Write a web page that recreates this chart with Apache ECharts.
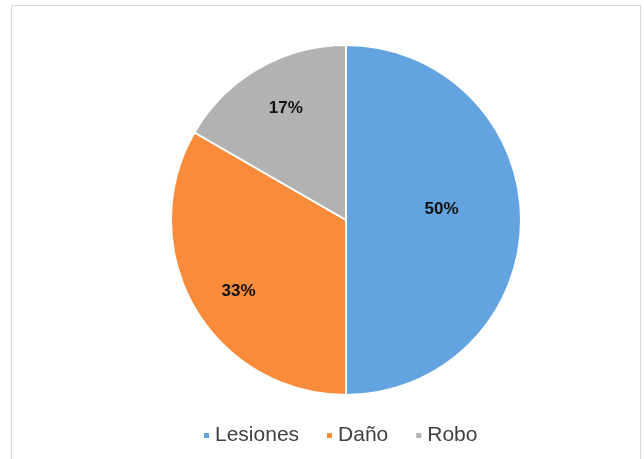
<!DOCTYPE html>
<html><head><meta charset="utf-8">
<script src="https://cdn.jsdelivr.net/npm/echarts@6/dist/echarts.min.js"></script>
<style>html,body{margin:0;padding:0;background:#fff}#frame{position:absolute;left:11px;top:5px;width:630px;height:460px;border:1.5px solid #d9d9d9;box-sizing:border-box}#c{width:644px;height:459px;position:absolute;left:0;top:0}</style>
</head><body><div id="frame"></div><div id="c"></div>
<script>
const categories = ['Lesiones', 'Daño', 'Robo'];
const values = [3, 2, 1];
const colors = ['#63a3df', '#f98b3a', '#b2b2b2'];
const labelOffsets = [[5, -11], [-29, 26], [-15, -33]];
const chart = echarts.init(document.getElementById('c'));
chart.setOption({
  animation: false,
  color: colors,
  legend: {
    bottom: 8, left: 197, itemWidth: 7, itemHeight: 7, itemGap: 26, icon: 'rect',
    textStyle: { fontFamily: 'Liberation Sans, Arial', fontSize: 21, color: '#404040' },
    data: categories
  },
  series: [{
    type: 'pie', center: [346, 220], radius: 175, startAngle: 90, clockwise: true,
    itemStyle: { borderColor: '#fff', borderWidth: 2 },
    label: { position: 'inside', formatter: p => Math.round(p.percent) + '%', fontFamily: 'Liberation Sans, Arial', fontWeight: 'bold', fontSize: 17, color: '#111' },
    labelLine: { show: false },
    data: categories.map((n, i) => ({ name: n, value: values[i], label: { offset: labelOffsets[i] } }))
  }]
});
</script></body></html>
